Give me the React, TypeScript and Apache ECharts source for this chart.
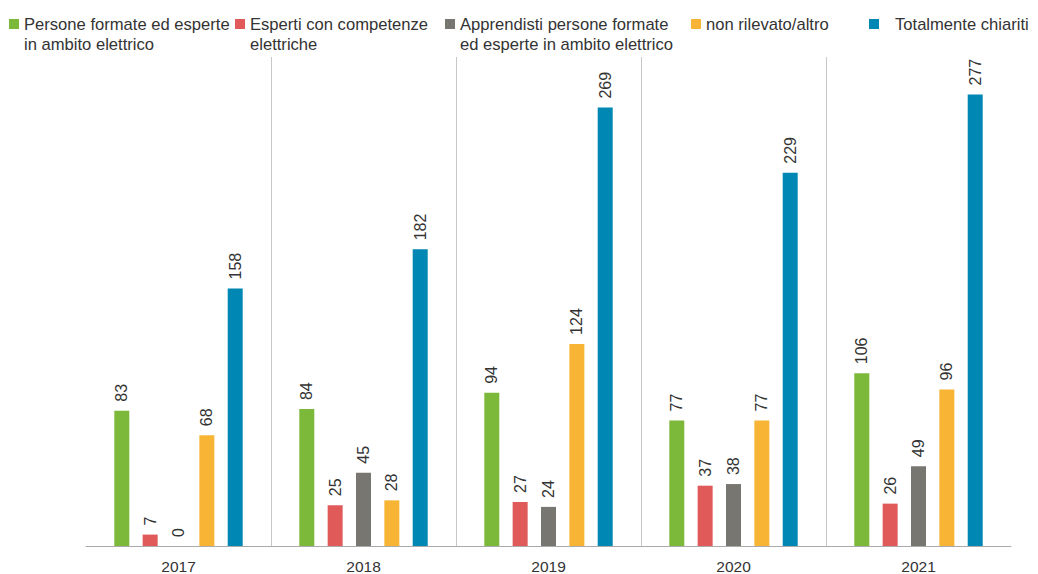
import React, { useEffect, useRef } from "react";
import * as echarts from "echarts";

const years = ["2017", "2018", "2019", "2020", "2021"];
const seriesNames = [
  "Persone formate ed esperte\nin ambito elettrico",
  "Esperti con competenze\nelettriche",
  "Apprendisti persone formate\ned esperte in ambito elettrico",
  "non rilevato/altro",
  "Totalmente chiariti",
];
const personeFormate = [83, 84, 94, 77, 106];
const espertiCompetenze = [7, 25, 27, 37, 26];
const apprendisti = [0, 45, 24, 38, 49];
const nonRilevato = [68, 28, 124, 77, 96];
const totalmenteChiariti = [158, 182, 269, 229, 277];
const colors = ["#7cb93a", "#df5a58", "#787670", "#f8b535", "#0087b4"];

const legendLeft = [9, 235, 445, 691, 869];

export default function App() {
  const ref = useRef<HTMLDivElement>(null);
  useEffect(() => {
    const chart = echarts.init(ref.current!, undefined, { renderer: "svg" });
    const values = [personeFormate, espertiCompetenze, apprendisti, nonRilevato, totalmenteChiariti];
    const font = "'Liberation Sans', Arial, sans-serif";
    const legends = seriesNames.map((name, i) => {
      const twoLines = name.includes("\n");
      return {
        data: [name],
        left: legendLeft[i],
        top: twoLines ? -6 : 14,
        padding: 0,
        itemWidth: 10,
        itemHeight: 10,
        icon: "rect",
        selectedMode: false,
        formatter: (n: string) => (twoLines ? "\n" + n : n),
        textStyle: {
          fontFamily: font,
          fontSize: 16.6,
          color: "#333",
          lineHeight: 20,
          padding: i === 4 ? [0, 0, 0, 11] : 0,
        },
      };
    });
    chart.setOption({
      animation: false,
      color: colors,
      legend: legends,
      grid: { left: 86, right: 27, top: 57, bottom: 28 },
      xAxis: {
        type: "category",
        data: years,
        axisTick: { show: false },
        axisLine: { lineStyle: { color: "#aaa", width: 1 } },
        axisLabel: { fontFamily: font, fontSize: 15.5, color: "#333", margin: 12 },
        splitLine: {
          show: true,
          lineStyle: {
            color: ["rgba(0,0,0,0)", "#c8c8c8", "#c8c8c8", "#c8c8c8", "#c8c8c8", "rgba(0,0,0,0)"],
            width: 1,
          },
        },
      },
      yAxis: {
        type: "value",
        min: 0,
        max: 300,
        show: false,
        splitLine: { show: false },
      },
      series: seriesNames.map((name, i) => ({
        name,
        type: "bar",
        data: values[i],
        barWidth: 15,
        barGap: "89%",
        itemStyle: { color: colors[i] },
        label: {
          show: true,
          position: "top",
          rotate: 90,
          align: "left",
          verticalAlign: "middle",
          distance: 9,
          fontFamily: font,
          fontSize: 16,
          color: "#333",
        },
      })),
    });
    return () => chart.dispose();
  }, []);
  return <div ref={ref} style={{ width: 1038, height: 574, position: "absolute", left: 0, top: 0 }} />;
}
